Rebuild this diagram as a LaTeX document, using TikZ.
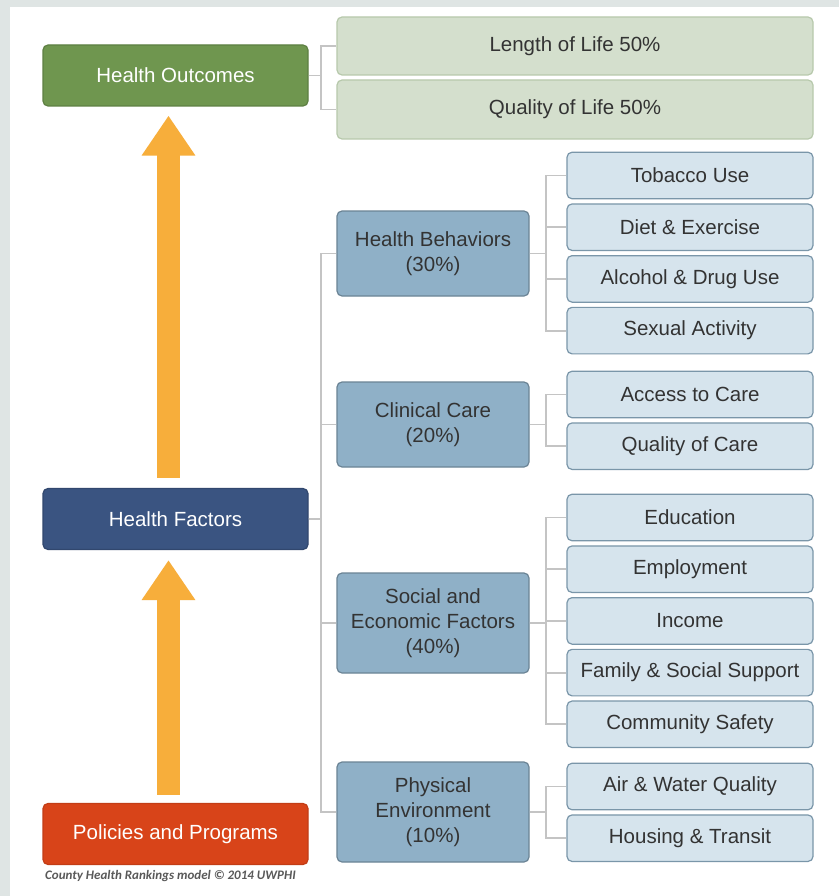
\documentclass[tikz,border=0pt]{standalone}
\usepackage{fontspec}
\setmainfont{Liberation Sans}
\newfontfamily\notefont{Carlito}
\usepackage{tikz}
\usetikzlibrary{positioning, arrows.meta}

\definecolor{outgreen}{HTML}{6F964F}
\definecolor{factblue}{HTML}{3A5481}
\definecolor{polred}{HTML}{D84419}
\definecolor{lightgreen}{HTML}{D4DFCD}
\definecolor{greenline}{HTML}{B7C9AC}
\definecolor{midblue}{HTML}{8FB0C7}
\definecolor{leafblue}{HTML}{D6E4ED}
\definecolor{arroworange}{HTML}{F7AE3B}
\definecolor{linkgrey}{HTML}{C4C4C4}
\definecolor{panelgrey}{HTML}{DFE5E4}

\begin{document}
\begin{tikzpicture}[x=1pt, y=-1pt,
		mainbox/.style={
			rectangle,
			rounded corners=5pt,
			line width=1.2pt,
			text=white,
			minimum width=265pt,
			minimum height=61pt,
			font=\fontsize{20.5}{24}\selectfont,
			text centered},
		outbox/.style={
			rectangle,
			rounded corners=5pt,
			fill=lightgreen, draw=greenline,
			line width=1.2pt,
			text=black!80,
			minimum width=476pt,
			minimum height=58pt,
			font=\fontsize{20.5}{24}\selectfont,
			text centered},
		midbox/.style={
			rectangle,
			rounded corners=5pt,
			fill=midblue, draw=midblue!75!black,
			line width=1.2pt,
			text=black!80,
			minimum width=192pt,
			align=center,
			font=\fontsize{20.5}{25}\selectfont},
		leafbox/.style={
			rectangle,
			rounded corners=5pt,
			fill=leafblue, draw=midblue!85!black,
			line width=1.2pt,
			text=black!80,
			minimum width=246pt,
			minimum height=46.5pt,
			inner sep=2pt,
			font=\fontsize{20.5}{24}\selectfont,
			text centered},
		link/.style={draw=linkgrey, line width=1.8pt},
		bigarrow/.style={draw=arroworange, line width=23pt,
			-{Triangle[width=51pt, length=40pt]}},
		node distance=4pt]
		% panel
		\useasboundingbox (0,0) rectangle (839,896);
		\fill[panelgrey] (0,0) rectangle (839,896);
		\fill[white] (10,7) rectangle (839,896);
		% left column
		\node[mainbox, fill=outgreen, draw=outgreen!85!black] (outcomes) at (175.5,75.5) {Health Outcomes};
		\node[mainbox, fill=factblue, draw=factblue!85!black] (factors) at (175.5,519) {Health Factors};
		\node[mainbox, fill=polred, draw=polred!90!black] (policies) at (175.5,834) {Policies and Programs};
		\node[anchor=north west, inner sep=0pt, text=black!65, font=\notefont\bfseries\itshape\fontsize{13}{15}\selectfont] (credit) at (45,870) {County Health Rankings model © 2014 UWPHI};
		\draw [bigarrow, shorten <=8pt, shorten >=10pt] ([xshift=-7pt]policies.north) -- ([xshift=-7pt]factors.south);
		\draw [bigarrow, shorten <=10pt, shorten >=9pt] ([xshift=-7pt]factors.north) -- ([xshift=-7pt]outcomes.south);
		% outcomes
		\node[outbox] (length) at (575,46) {Length of Life 50\%};
		\node[outbox, minimum height=59pt] (quality) at (575,109.5) {Quality of Life 50\%};
		\draw [link] (outcomes.east) -- ++(12,0) |- (length.west);
		\draw [link] (outcomes.east) -- ++(12,0) |- (quality.west);
		% factors
		\node[midbox, minimum height=85pt] (behav) at (433,253.5) {Health Behaviors\\(30\%)};
		\node[midbox, minimum height=85pt] (care) at (433,424.5) {Clinical Care\\(20\%)};
		\node[midbox, minimum height=100pt] (social) at (433,623) {Social and\\Economic Factors\\(40\%)};
		\node[midbox, minimum height=100pt] (phys) at (433,812) {Physical\\Environment\\(10\%)};
		\foreach \m in {behav, care, social, phys}
			\draw [link] (factors.east) -- ++(12,0) |- (\m.west);
		% behaviors
		\node[leafbox] (tobacco) at (690,175.5) {Tobacco Use};
		\node[leafbox, below=of tobacco] (diet) {Diet \& Exercise};
		\node[leafbox, below=of diet] (alcohol) {Alcohol \& Drug Use};
		\node[leafbox, below=of alcohol] (sexual) {Sexual Activity};
		\foreach \l in {tobacco, diet, alcohol, sexual}
			\draw [link] (behav.east) -- ++(16,0) |- (\l.west);
		% clinical care
		\node[leafbox] (access) at (690,394.5) {Access to Care};
		\node[leafbox, below=of access] (qcare) {Quality of Care};
		\foreach \l in {access, qcare}
			\draw [link] (care.east) -- ++(16,0) |- (\l.west);
		% social and economic
		\node[leafbox] (educ) at (690,517.5) {Education};
		\node[leafbox, below=of educ] (employ) {Employment};
		\node[leafbox, below=of employ] (income) {Income};
		\node[leafbox, below=of income] (family) {Family \& Social Support};
		\node[leafbox, below=of family] (safety) {Community Safety};
		\foreach \l in {educ, employ, income, family, safety}
			\draw [link] (social.east) -- ++(16,0) |- (\l.west);
		% physical environment
		\node[leafbox] (air) at (690,786.5) {Air \& Water Quality};
		\node[leafbox, below=of air] (housing) {Housing \& Transit};
		\foreach \l in {air, housing}
			\draw [link] (phys.east) -- ++(16,0) |- (\l.west);
\end{tikzpicture}
\end{document}
